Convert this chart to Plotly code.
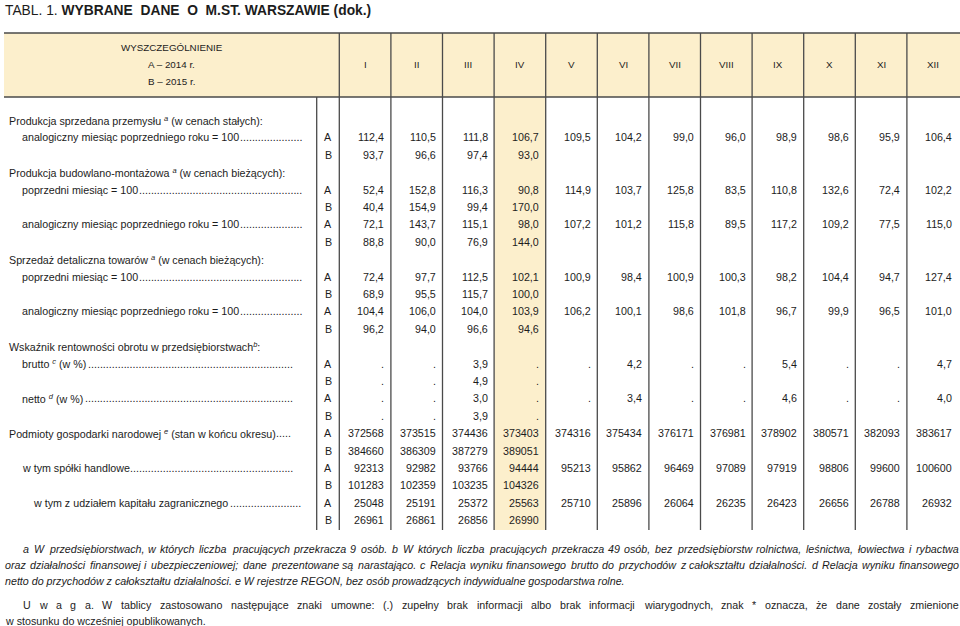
import re
import plotly.graph_objects as go

months = ["I", "II", "III", "IV", "V", "VI", "VII", "VIII", "IX", "X", "XI", "XII"]

# A - 2014, B - 2015 (only Jan-Apr); None = "." (brak informacji)
przem_analog_A = [112.4, 110.5, 111.8, 106.7, 109.5, 104.2, 99.0, 96.0, 98.9, 98.6, 95.9, 106.4]
przem_analog_B = [93.7, 96.6, 97.4, 93.0]
bud_pop_A = [52.4, 152.8, 116.3, 90.8, 114.9, 103.7, 125.8, 83.5, 110.8, 132.6, 72.4, 102.2]
bud_pop_B = [40.4, 154.9, 99.4, 170.0]
bud_analog_A = [72.1, 143.7, 115.1, 98.0, 107.2, 101.2, 115.8, 89.5, 117.2, 109.2, 77.5, 115.0]
bud_analog_B = [88.8, 90.0, 76.9, 144.0]
det_pop_A = [72.4, 97.7, 112.5, 102.1, 100.9, 98.4, 100.9, 100.3, 98.2, 104.4, 94.7, 127.4]
det_pop_B = [68.9, 95.5, 115.7, 100.0]
det_analog_A = [104.4, 106.0, 104.0, 103.9, 106.2, 100.1, 98.6, 101.8, 96.7, 99.9, 96.5, 101.0]
det_analog_B = [96.2, 94.0, 96.6, 94.6]
brutto_A = [None, None, 3.9, None, None, 4.2, None, None, 5.4, None, None, 4.7]
brutto_B = [None, None, 4.9, None]
netto_A = [None, None, 3.0, None, None, 3.4, None, None, 4.6, None, None, 4.0]
netto_B = [None, None, 3.9, None]
podmioty_A = [372568, 373515, 374436, 373403, 374316, 375434, 376171, 376981, 378902, 380571, 382093, 383617]
podmioty_B = [384660, 386309, 387279, 389051]
spolki_A = [92313, 92982, 93766, 94444, 95213, 95862, 96469, 97089, 97919, 98806, 99600, 100600]
spolki_B = [101283, 102359, 103235, 104326]
zagr_A = [25048, 25191, 25372, 25563, 25710, 25896, 26064, 26235, 26423, 26656, 26788, 26932]
zagr_B = [26961, 26861, 26856, 26990]

# label, indent level, A/B, values, decimals, end of dot leader
rows = [
    ("Produkcja sprzedana przemysłu <sup><i>a</i></sup> (w cenach stałych):", 0, "", None, 1, None),
    ("analogiczny miesiąc poprzedniego roku = 100", 1, "A", przem_analog_A, 1, 304),
    ("", 1, "B", przem_analog_B, 1, None),
    ("Produkcja budowlano-montażowa <sup><i>a</i></sup> (w cenach bieżących):", 0, "", None, 1, None),
    ("poprzedni miesiąc = 100", 1, "A", bud_pop_A, 1, 304),
    ("", 1, "B", bud_pop_B, 1, None),
    ("analogiczny miesiąc poprzedniego roku = 100", 1, "A", bud_analog_A, 1, 304),
    ("", 1, "B", bud_analog_B, 1, None),
    ("Sprzedaż detaliczna towarów <sup><i>a</i></sup> (w cenach bieżących):", 0, "", None, 1, None),
    ("poprzedni miesiąc = 100", 1, "A", det_pop_A, 1, 304),
    ("", 1, "B", det_pop_B, 1, None),
    ("analogiczny miesiąc poprzedniego roku = 100", 1, "A", det_analog_A, 1, 304),
    ("", 1, "B", det_analog_B, 1, None),
    ("Wskaźnik rentowności obrotu w przedsiębiorstwach<sup><i>b</i></sup>:", 0, "", None, 1, None),
    ("brutto <sup><i>c</i></sup> (w %)", 1, "A", brutto_A, 1, 295),
    ("", 1, "B", brutto_B, 1, None),
    ("netto <sup><i>d</i></sup> (w %)", 1, "A", netto_A, 1, 295),
    ("", 1, "B", netto_B, 1, None),
    ("Podmioty gospodarki narodowej <sup><i>e</i></sup> (stan w końcu okresu)", 0, "A", podmioty_A, 0, 293),
    ("", 0, "B", podmioty_B, 0, None),
    ("w tym spółki handlowe", 1, "A", spolki_A, 0, 295),
    ("", 1, "B", spolki_B, 0, None),
    ("w tym z udziałem kapitału zagranicznego", 2, "A", zagr_A, 0, 303),
    ("", 2, "B", zagr_B, 0, None),
]

footnote_lines = [
    "a W przedsiębiorstwach, w których liczba pracujących przekracza 9 osób. b W których liczba pracujących "
    "przekracza 49 osób, bez przedsiębiorstw rolnictwa, leśnictwa, łowiectwa i rybactwa",
    "oraz działalności finansowej i ubezpieczeniowej; dane prezentowane są narastająco. c Relacja wyniku "
    "finansowego brutto do przychodów z całokształtu działalności. d Relacja wyniku finansowego",
    "netto do przychodów z całokształtu działalności. e W rejestrze REGON, bez osób prowadzących "
    "indywidualne gospodarstwa rolne.",
]
uwaga_lines = [
    "U w a g a. W tablicy zastosowano następujące znaki umowne: (.) zupełny brak informacji albo brak "
    "informacji wiarygodnych, znak * oznacza, że dane zostały zmienione",
    "w stosunku do wcześniej opublikowanych.",
]

FONT = "Liberation Sans, Arial, sans-serif"
INK = "#1c1c1c"
LINE = "#4a4a4a"
BEIGE = "#fcefcc"
FS = 10.7

# Arial advance widths (1/1000 em), used for dot leaders and justified notes
WID = {}
for chars, v in [("ijlł", 222), (" ,.:;Itf/!", 278), ("r()-", 333), ("*", 389),
                 ("cksvxyzćśźżJ", 500), ("=+", 584), ("FTZŻ", 611), ("ABEKPSVXYŚ", 667),
                 ("CDHNRUw", 722), ("GOQÓ", 778), ("mM", 833), ("%", 889), ("W", 944)]:
    for ch in chars:
        WID[ch] = v


def text_w(s, size=FS):
    sups = re.findall(r"<sup>(.*?)</sup>", s)
    plain = re.sub(r"<sup>.*?</sup>", "", s)
    plain = re.sub(r"<[^>]+>", "", plain)
    w = sum(WID.get(c, 556) for c in plain)
    w += sum(0.7 * WID.get(c, 556) for c in re.sub(r"<[^>]+>", "", "".join(sups)))
    return w * size / 1000


ann = []


def txt(x, y, s, size=FS, anchor="left"):
    ann.append(dict(x=x, y=y, text=s, xref="x", yref="y", showarrow=False,
                    xanchor=anchor, yanchor="middle",
                    font=dict(family=FONT, size=size, color=INK)))


def justify(line, x0, x1, y, italic=True):
    words = line.split(" ")
    ws = [text_w(w) for w in words]
    gap = (x1 - x0 - sum(ws)) / (len(words) - 1)
    x = x0
    for w, wd in zip(words, ws):
        txt(x, y, f"<i>{w}</i>" if italic else w)
        x += wd + gap


edges = [339.3 + i * 51.6 for i in range(13)]
ab_x = 316.7
row_y = [120 + i * 17.4 for i in range(len(rows))]
indent_x = [7, 20, 31]

# title
txt(3, 10, "TABL. 1. <b>WYBRANE\u00a0 DANE\u00a0 O\u00a0 M.ST. WARSZAWIE (dok.)</b>", size=13.8)

# header
hx = (4 + edges[0]) / 2
txt(hx, 47, "WYSZCZEGÓLNIENIE", size=9.8, anchor="center")
txt(hx, 64, "A – 2014 r.", size=9.8, anchor="center")
txt(hx, 81, "B – 2015 r.", size=9.8, anchor="center")
for i, m in enumerate(months):
    txt((edges[i] + edges[i + 1]) / 2, 64, m, size=9.8, anchor="center")

# body
for (label, lev, ab, vals, dec, lead_end), y in zip(rows, row_y):
    if label:
        x0 = indent_x[lev]
        txt(x0, y, label)
        if lead_end:
            n = int((lead_end - x0 - text_w(label) - 4) / (278 * FS / 1000))
            txt(lead_end, y, "." * n, anchor="right")
    if ab:
        txt((ab_x + edges[0]) / 2, y, ab, anchor="center")
    if vals:
        for i, v in enumerate(vals):
            if v is None:
                s = "."
            elif dec:
                s = f"{v:.1f}".replace(".", ",")
            else:
                s = f"{v:d}"
            txt(edges[i + 1] - 4.5, y, s, anchor="right")

# notes
justify(footnote_lines[0], 21, 957, 549)
justify(footnote_lines[1], 3, 957, 565)
txt(3, 581, "<i>" + footnote_lines[2] + "</i>")
justify(uwaga_lines[0], 21, 957, 605, italic=False)
txt(3, 621, uwaga_lines[1])

shapes = [
    dict(type="rect", x0=4, x1=960, y0=33, y1=97, fillcolor=BEIGE, line_width=0, layer="below"),
    dict(type="rect", x0=edges[3], x1=edges[4], y0=97, y1=530, fillcolor=BEIGE, line_width=0, layer="below"),
]
for y in (33, 97):
    shapes.append(dict(type="line", x0=4, x1=960, y0=y, y1=y, line=dict(color=LINE, width=1.3)))
for x in edges[:12]:
    shapes.append(dict(type="line", x0=x, x1=x, y0=33, y1=530, line=dict(color=LINE, width=1.3)))
shapes.append(dict(type="line", x0=ab_x, x1=ab_x, y0=97, y1=530, line=dict(color=LINE, width=1.3)))

fig = go.Figure()
fig.update_layout(
    width=960, height=626,
    margin=dict(l=0, r=0, t=0, b=0),
    paper_bgcolor="white", plot_bgcolor="white",
    xaxis=dict(range=[0, 960], visible=False, fixedrange=True),
    yaxis=dict(range=[626, 0], visible=False, fixedrange=True),
    shapes=shapes, annotations=ann, showlegend=False,
)
fig.write_html("out.html", config={"displayModeBar": False},
               post_script="document.body.style.margin='0';")
